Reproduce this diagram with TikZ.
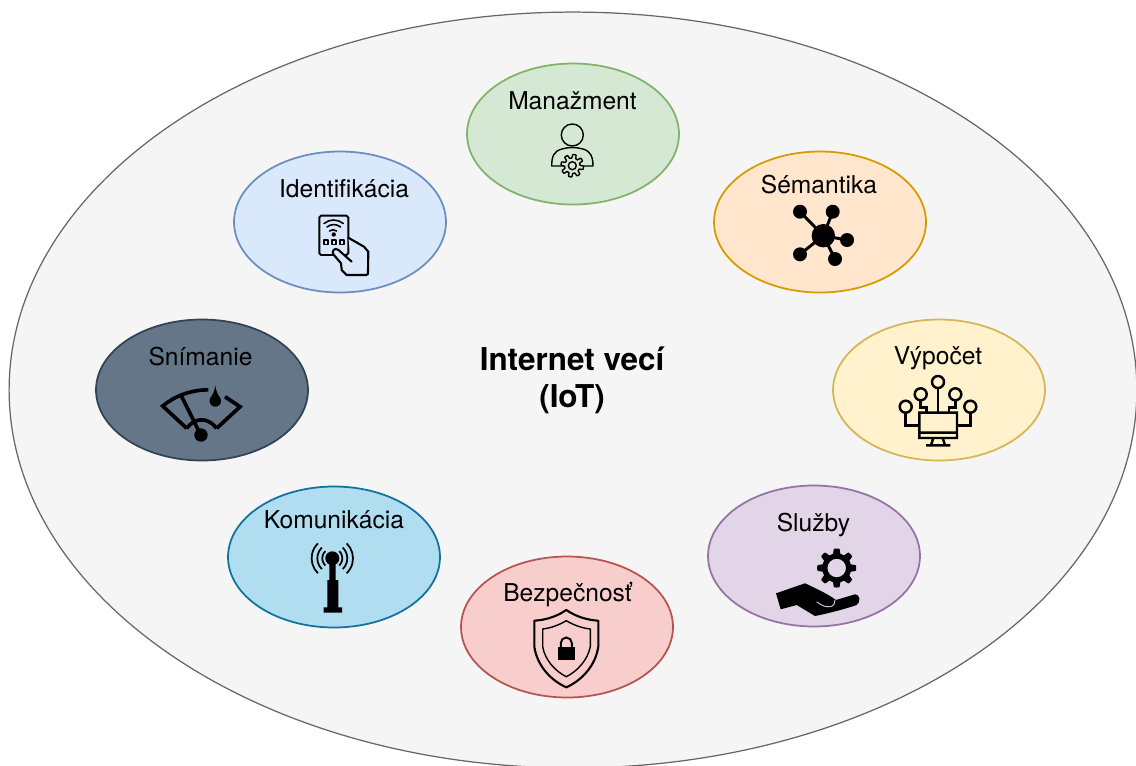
\documentclass[tikz,border=0pt]{standalone}
\usepackage{fontspec}
\setmainfont{TeX Gyre Heros}
\usepackage{xcolor}
\usetikzlibrary{shapes.geometric}
\definecolor{outerfill}{HTML}{F5F5F5}
\definecolor{outerline}{HTML}{666666}
\definecolor{mangreen}{HTML}{D5E8D4}
\definecolor{mangreenline}{HTML}{82B366}
\definecolor{semorange}{HTML}{FFE6CC}
\definecolor{semorangeline}{HTML}{D79B00}
\definecolor{vypyellow}{HTML}{FFF2CC}
\definecolor{vypyellowline}{HTML}{D6B656}
\definecolor{slupurple}{HTML}{E1D5E7}
\definecolor{slupurpleline}{HTML}{9673A6}
\definecolor{bezred}{HTML}{F8CECC}
\definecolor{bezredline}{HTML}{B85450}
\definecolor{komblue}{HTML}{B1DDF0}
\definecolor{komblueline}{HTML}{10739E}
\definecolor{snigrey}{HTML}{647687}
\definecolor{snigreyline}{HTML}{314354}
\definecolor{idnblue}{HTML}{DAE8FC}
\definecolor{idnblueline}{HTML}{6C8EBF}
\tikzset{
  layerbox/.style={ellipse,draw,line width=1pt,minimum width=4.24cm,minimum height=2.82cm,inner sep=0pt},
  layertext/.style={font=\fontsize{14}{16}\selectfont,inner sep=0pt},
  icon/.style={line width=#1,line cap=round,line join=round},
  icon/.default=1pt
}
\begin{document}
\begin{tikzpicture}[x=0.02cm,y=-0.02cm]
  \path[use as bounding box,clip] (0,0) rectangle (1136,765);
  \node[ellipse,draw=outerline,fill=outerfill,line width=0.7pt,minimum width=22.56cm,minimum height=15.12cm,inner sep=0pt] (iot) at (573,390) {};
  \node[align=center,font=\fontsize{17.9}{21}\selectfont\bfseries,inner sep=0pt] (iottext) at (572,380) {Internet vecí\\(IoT)};

  \node[layerbox,fill=mangreen,draw=mangreenline] (manazment) at (573,134) {};
  \node[layerbox,fill=semorange,draw=semorangeline] (semantika) at (820,222) {};
  \node[layerbox,fill=vypyellow,draw=vypyellowline] (vypocet) at (939,390) {};
  \node[layerbox,fill=slupurple,draw=slupurpleline] (sluzby) at (814,556) {};
  \node[layerbox,fill=bezred,draw=bezredline] (bezpecnost) at (567,627) {};
  \node[layerbox,fill=komblue,draw=komblueline] (komunikacia) at (334,557) {};
  \node[layerbox,fill=snigrey,draw=snigreyline] (snimanie) at (202,390) {};
  \node[layerbox,fill=idnblue,draw=idnblueline] (identifikacia) at (340,222) {};

  \node[layertext] (manazmenttext) at (572.5,100.5) {Manažment};
  \node[layertext] (semantikatext) at (819,185) {Sémantika};
  \node[layertext] (vypocettext) at (938,358) {Výpočet};
  \node[layertext] (sluzbytext) at (813.5,525) {Služby};
  \node[layertext] (bezpecnosttext) at (567.5,594.5) {Bezpečnosť};
  \node[layertext] (komunikaciatext) at (334,520) {Komunikácia};
  \node[layertext] (snimanietext) at (200.5,356.5) {Snímanie};
  \node[layertext] (identifikaciatext) at (344,188.5) {Identifikácia};

  \draw[icon=0.8pt] (572.3,135) circle (11);
  \draw[icon=0.8pt] (551.7,166) -- (593,166) (551.7,166) .. controls (551.7,156) and (554,151) .. (562,149) .. controls (568,147) and (576,147) .. (583,149) .. controls (590,151) and (593,156) .. (593,166);
  \draw[icon=0.8pt,fill=mangreen,shift={(572.3,165.7)}] plot[domain=0:360,samples=145] ({(9.5+1.8*max(-1,min(1,2.5*sin(8*\x))))*cos(\x)},{(9.5+1.8*max(-1,min(1,2.5*sin(8*\x))))*sin(\x)}) -- cycle (0,0) circle (4);

  \foreach \px/\py in {800/211.7,832.7/211.7,847/240,800/254.3,835/259}{
    \draw[line width=1.7pt] (823.3,235.7) -- (\px,\py);
    \fill (\px,\py) circle (7);
  }
  \fill (823.3,235.7) circle (11.7);

  \draw[icon=1.1pt,rounded corners=1pt] (319.3,215.7) rectangle (348.3,255);
  \draw[icon=0.9pt] (324,223.5) arc[start angle=-130,end angle=-50,radius=15] (327,227) arc[start angle=-130,end angle=-50,radius=10.5] (329.5,231) arc[start angle=-130,end angle=-50,radius=5.5];
  \fill (333.7,234.5) circle (2.2);
  \foreach \px in {326,334,342}{
    \draw[icon=0.9pt] (\px-2.2,240.1) rectangle (\px+2.2,244.5);
  }
  \draw[icon=1.2pt,fill=idnblue] (351.7,261.7) -- (338.5,250) .. controls (335,247) and (331,251) .. (333.5,254.5) -- (341,263.3) -- (341.7,270) -- (346.7,275) -- (366,275) .. controls (368,275) and (368,274) .. (368,272) -- (368.3,251.7) -- (364,246.7) -- (348.3,237.7);

  \draw[icon=2.1pt,line cap=butt,line join=miter] (186.7,428.3) -- (162.7,406) .. controls (175,396) and (190,390) .. (208.3,389.8);
  \draw[icon=2.1pt,line cap=butt,line join=miter] (225,396.7) -- (240,406.7) -- (216.7,428.3);
  \draw[icon=2.1pt,line cap=butt] (186.7,428.3) .. controls (195,417) and (208,417) .. (216.7,428.3);
  \draw[icon=2.1pt,line cap=butt] (181.7,396.7) -- (198.3,430);
  \fill (201,435) circle (6.7);
  \fill (215.3,385.7) .. controls (216,392) and (219,396) .. (220.5,398.5) -- (210.1,398.5) .. controls (211.6,396) and (214.6,392) .. (215.3,385.7);
  \fill (215.3,401) circle (5.7);

  \foreach \px/\py in {938/382,920.7/394.3,955.3/394.3,905.7/406.7,970.3/406.7}{
    \draw[line width=1.4pt] (\px,\py) circle (6);
  }
  \draw[line width=1.4pt] (938,388.4) -- (938,412.7) (920.7,400.7) -- (920.7,407.3) -- (926.7,407.3) -- (926.7,412.7) (955.3,400.7) -- (955.3,407.3) -- (949,407.3) -- (949,412.7) (905.7,413) -- (905.7,425.3) -- (919.3,425.3) (970.3,413) -- (970.3,425.3) -- (957,425.3);
  \draw[line width=1.4pt] (919.3,412.7) rectangle (957,438) (919.3,432.7) -- (957,432.7) (933.3,438) -- (931,445.3) (942.7,438) -- (945,445.3) (926,445.3) -- (950.3,445.3);

  \fill[shift={(836.7,568)},even odd rule] plot[domain=0:360,samples=145] ({(17+2.5*max(-1,min(1,2.5*sin(8*\x+90))))*cos(\x)},{(17+2.5*max(-1,min(1,2.5*sin(8*\x+90))))*sin(\x)}) -- cycle (0,0) circle (9.3);
  \fill (776,593.3) -- (780.7,609.3) -- (796.7,605) -- (815,616) .. controls (830,613) and (845,609) .. (856.7,605) .. controls (861,602) and (860,594) .. (855,594.3) -- (836,600) .. controls (828,594) and (815,588) .. (805,583.3) -- cycle;
  \draw[slupurple,line width=0.5pt] (816.7,601.7) .. controls (822,606) and (826,607) .. (830,606.7) .. controls (834,606) and (835,603) .. (835,600);

  \fill (329.3,560) rectangle (335.7,580) (327.3,580) rectangle (338.3,607.3) (323.7,607.3) rectangle (342,612.7);
  \fill (332.3,558.3) circle (7);
  \foreach \rad in {10,15,20.7}{
    \draw[line width=1pt] (332.3,558.3) ++(-46:\rad) arc[start angle=-46,end angle=46,radius=\rad];
    \draw[line width=1pt] (332.3,558.3) ++(134:\rad) arc[start angle=134,end angle=226,radius=\rad];
  }

  \draw[icon=1.2pt] (566.3,610) .. controls (556,617) and (545,620) .. (534.3,620.7) -- (534.3,646.7) .. controls (537,665) and (550,680) .. (566.3,687.3) .. controls (582.6,680) and (595.6,665) .. (598.3,646.7) -- (598.3,620.7) .. controls (587.6,620) and (576.6,617) .. (566.3,610) -- cycle;
  \draw[icon=0.8pt] (566.3,620.7) .. controls (559,625) and (551,628) .. (542.7,629) -- (542.7,646.7) .. controls (545,660) and (555,671) .. (566.3,676.7) .. controls (577.6,671) and (587.6,660) .. (590.3,646.7) -- (590.3,629) .. controls (581.6,628) and (573.6,625) .. (566.3,620.7) -- cycle;
  \fill (558.3,646.7) rectangle (574.7,660);
  \draw[line width=1.1pt] (560.8,647) -- (560.8,643) arc[start angle=180,end angle=360,radius=5.5] -- (571.8,647);
\end{tikzpicture}
\end{document}
